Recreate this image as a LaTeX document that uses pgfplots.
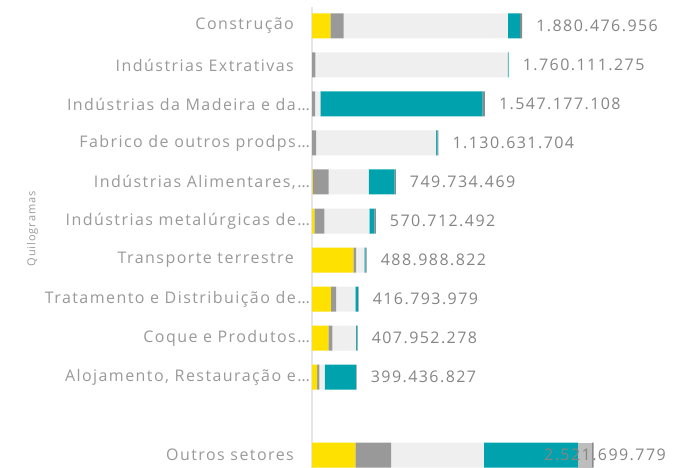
\documentclass[border=0pt]{standalone}
\usepackage{fontspec}
\setmainfont{Open Sans}[LetterSpace=9]
\usepackage{pgfplots}
\usepackage{pgfplotstable}
\pgfplotsset{compat=1.18}

\definecolor{cYel}{HTML}{FFE100}
\definecolor{cGry}{HTML}{999999}
\definecolor{cLgr}{HTML}{EFEFEF}
\definecolor{cTea}{HTML}{00A3AD}
\definecolor{cSil}{HTML}{BDBDBD}
\definecolor{cDrk}{HTML}{8A8A8A}
\definecolor{txtC}{HTML}{999999}
\definecolor{valC}{HTML}{858585}
\definecolor{lineC}{HTML}{E6E6E6}

% values in millions of kg; lx = where the total's label starts
\pgfplotstableread{
y  yel gry lgr  tea    sil drk  lx     lab
11 164 119 1470 111    0   16.5 1976.3 1.880.476.956
10 0   30  1720 10.1   0   0    1855.9 1.760.111.275
9  0   27  48   1452.2 0   20   1643.0 1.547.177.108
8  0   36  1074 11.6   0   9    1226.4 1.130.631.704
7  6   143 358  232.7  0   10   845.5  749.734.469
6  21  90  403  44.7   0   12   666.5  570.712.492
5  370 24  75   12     0   8    584.8  488.988.822
4  170 45  172.8 22    0   7    512.6  416.793.979
3  146 36  212  10     0   4    503.8  407.952.278
2  45  20  48.4 280    0   6    495.2  399.436.827
0  388 320 830  842    128 13.7 2047   2.521.699.779
}\data

% category names; cx = where the name ends
\pgfplotstableread[col sep=semicolon]{
y;cx;cat
11;-131;Construção
10;-131;Indústrias Extrativas
9;12;Indústrias da Madeira e da…
8;12;Fabrico de outros prodps…
7;12;Indústrias Alimentares,…
6;12;Indústrias metalúrgicas de…
5;-131;Transporte terrestre
4;12;Tratamento e Distribuição de…
3;12;Coque e Produtos…
2;12;Alojamento, Restauração e…
0;-131;Outros setores
}\cats

\pgfplotsset{
  base/.style={
    at={(312bp,0bp)}, anchor=south west,
    scale only axis,
    width=370bp, height=461bp,
    xmin=0, xmax=3312,
    ymin=-0.333, ymax=11.487,
  }
}

\begin{document}
\begin{tikzpicture}
\useasboundingbox (0,0) rectangle (682bp,468bp);
\begin{axis}[
  base,
  xbar stacked,
  bar width=25bp,
  axis x line=none,
  axis y line=left,
  y axis line style={draw=lineC, line width=2bp, -},
  ytick=\empty,
]
\addplot[fill=cYel, draw=none] table[x=yel, y=y] {\data};
\addplot[fill=cGry, draw=none] table[x=gry, y=y] {\data};
\addplot[fill=cLgr, draw=none] table[x=lgr, y=y] {\data};
\addplot[fill=cTea, draw=none] table[x=tea, y=y] {\data};
\addplot[fill=cSil, draw=none] table[x=sil, y=y] {\data};
\addplot[fill=cDrk, draw=none] table[x=drk, y=y] {\data};
\end{axis}
% overlay axis for the names, the totals and the axis title
\begin{axis}[
  base,
  hide axis,
  clip=false,
]
\addplot[draw=none, mark=none,
  nodes near coords,
  point meta=explicit symbolic,
  every node near coord/.style={anchor=east,
    font=\fontsize{16bp}{19bp}\selectfont, text=txtC},
] table[x=cx, y=y, meta=cat] {\cats};
\addplot[draw=none, mark=none,
  nodes near coords,
  point meta=explicit symbolic,
  every node near coord/.style={anchor=west,
    font=\fontsize{16bp}{19bp}\selectfont, text=valC},
] table[x=lx, y=y, meta=lab] {\data};
\node[rotate=90, font=\fontsize{11bp}{13bp}\selectfont, text=txtC]
  at (axis cs:-2502,5.8) {Quilogramas};
\end{axis}
\end{tikzpicture}
\end{document}
